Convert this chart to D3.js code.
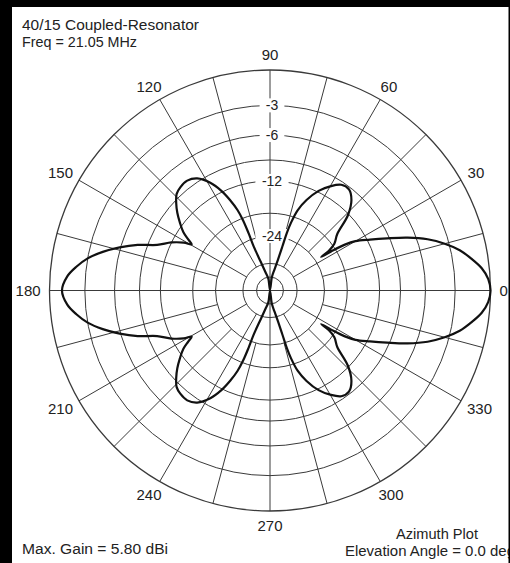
<!DOCTYPE html>
<html>
<head>
<meta charset="utf-8">
<script src="https://cdn.jsdelivr.net/npm/d3@7"></script>
<style>
  html, body { margin: 0; padding: 0; background: #fff; }
  svg { display: block; }
  text { font-family: "Liberation Sans", Arial, sans-serif; fill: #222; }
</style>
</head>
<body>
<div id="chart"></div>
<script>
// ---------------------------------------------------------------------------
// Data. Azimuth in degrees, gain in dB below max.
// ---------------------------------------------------------------------------
const azimuths = [
    0, 3, 6, 9, 12, 15, 18, 21, 24, 27, 30, 31.5, 32.5, 33.2, 34, 36, 40, 44, 48, 52,
    56, 60, 64, 68, 71, 72.8, 73.7, 74.3, 75.5, 78, 82, 90,
    98, 104, 108, 110.3, 110.5, 111, 112, 113.8, 116, 119, 123, 127, 131, 134, 137, 140,
    143, 146, 148, 149.5, 151, 154, 158, 161, 164, 167, 170, 173, 176, 180,
    184, 187, 190, 193, 196, 199, 202, 206, 209, 210.5, 212, 214, 217, 220, 223, 226,
    229, 233, 237, 241, 244, 246.2, 248, 249, 249.5, 249.7, 252, 256, 262, 270,
    278, 282, 284.5, 285.7, 286.3, 287.2, 289, 292, 296, 300, 304, 308, 312, 316,
    320, 324, 326, 326.8, 327.5, 328.5, 330, 333, 336, 339, 342, 345, 348, 351, 354, 357
];
const gains = [
    0, -0.15, -0.6, -1.35, -2.2, -3.4, -4.9, -6.9, -9.3, -11.6, -13.8, -15.8, -18.5, -22, -19.5, -17.5, -15.8, -12.2, -10.2, -9.3,
    -9.4, -10.4, -11.8, -14, -16.4, -19.5, -22.4, -27, -33, -40, -48, -99,
    -50, -42, -34, -26.5, -22, -18.5, -16, -13.8, -11.8, -10, -8.6, -8.1, -8.2, -8.5, -9.3, -10.3,
    -11.5, -12.8, -14.2, -15.2, -13.8, -12.0, -10.2, -7.8, -5.9, -4.3, -3.0, -2.1, -1.4, -1.0,
    -1.4, -2.1, -3.0, -4.3, -5.9, -7.8, -10.2, -12.0, -13.8, -15.2, -14.2, -12.8, -11.5, -10.3, -9.3, -8.5,
    -8.2, -8.1, -8.6, -10, -11.8, -13.8, -16, -18.5, -22, -26.5, -34, -42, -50, -99,
    -48, -40, -33, -27, -22.4, -19.5, -16.4, -14, -11.8, -10.4, -9.4, -9.3, -10.2, -12.2,
    -15.8, -17.5, -19.5, -22, -18.5, -15.8, -13.8, -11.6, -9.3, -6.9, -4.9, -3.4, -2.2, -1.35, -0.6, -0.15
];

// Grid: rings (only some labelled) and spokes every 15 degrees
const ringDb      = [0, -3, -6, -9, -12, -18, -24, -36, -48];
const ringLabels  = ['-3', '-6', '-12', '-24'];
const spokeAngles = d3.range(0, 360, 15);
const angleLabels = d3.range(0, 360, 30);

const W  = 510, H = 563;
const cx = 270, cy = 290.5, R = 220.5;

const svg = d3.select('#chart').append('svg')
    .attr('width', W).attr('height', H)
    .attr('viewBox', `0 0 ${W} ${H}`);

svg.append('rect').attr('width', W).attr('height', H).attr('fill', '#fff');

// ARRL log-periodic scale: radius shrinks by 0.89 for every 2 dB.
// Expressed on power ratio, that is a power scale with this exponent.
const k = -5 * Math.log(0.89) / Math.LN10;
const rScale = d3.scalePow().exponent(k).domain([0, 1]).range([0, R]);
const r = db => rScale(Math.pow(10, db / 10));

// azimuth (CCW from east) -> d3 radial angle (CW from north)
const aScale = d3.scaleLinear().domain([0, 360]).range([Math.PI / 2, Math.PI / 2 - 2 * Math.PI]);

const g = svg.append('g').attr('transform', `translate(${cx},${cy})`);

// ── grid ──────────────────────────────────────────────────────────────────
const grid = g.append('g')
    .attr('fill', 'none')
    .attr('stroke', '#3a3a3a')
    .attr('stroke-width', 1);

grid.selectAll('circle')
    .data(ringDb)
    .join('circle')
    .attr('r', d => r(d))
    .attr('stroke-width', d => d === 0 ? 1.3 : 1);

// spokes: 90° ones cross the centre, 30° ones stop at -36, the rest at -24
spokeAngles.forEach(a => {
    const inner = a % 90 === 0 ? 0 : (a % 30 === 0 ? r(-36) : r(-24));
    const t = aScale(a);
    grid.append('line')
        .attr('x1', inner * Math.sin(t)).attr('y1', -inner * Math.cos(t))
        .attr('x2', R * Math.sin(t)).attr('y2', -R * Math.cos(t));
});

// ring labels on the 90 deg spoke, with a white gap
const lbl = g.append('g').selectAll('g')
    .data(ringLabels)
    .join('g')
    .attr('transform', d => `translate(2,${-r(+d)})`);

lbl.append('rect')
    .attr('x', d => -(d.length * 4.2) - 4)
    .attr('y', -7)
    .attr('width', d => d.length * 8.4 + 8)
    .attr('height', 14)
    .attr('fill', '#fff');

lbl.append('text')
    .attr('text-anchor', 'middle')
    .attr('dy', '0.36em')
    .attr('font-size', 14)
    .text(d => d);

// angle labels outside the outer ring
g.append('g').selectAll('text')
    .data(angleLabels)
    .join('text')
    .attr('font-size', 15)
    .attr('text-anchor', 'middle')
    .attr('dy', '0.36em')
    .attr('x', d => {
        const t = aScale(d), w = String(d).length * 8.3;
        return (R + 9) * Math.sin(t) + Math.sin(t) * w / 2;
    })
    .attr('y', d => {
        const t = aScale(d);
        return -(R + 9) * Math.cos(t) - Math.cos(t) * 6;
    })
    .text(d => d);

// ── pattern ───────────────────────────────────────────────────────────────
const pts = azimuths.map((a, i) => [a, gains[i]]);
const line = d3.lineRadial()
    .angle(d => aScale(d[0]))
    .radius(d => r(d[1]))
    .curve(d3.curveCatmullRomClosed.alpha(0.5));

g.append('path')
    .datum(pts)
    .attr('d', line)
    .attr('fill', 'none')
    .attr('stroke', '#111')
    .attr('stroke-width', 2.2)
    .attr('stroke-linejoin', 'round');

// ── texts ─────────────────────────────────────────────────────────────────
const txt = (x, y, s, len, anchor) => svg.append('text')
    .attr('x', x).attr('y', y)
    .attr('font-size', 14)
    .attr('text-anchor', anchor || 'start')
    .attr('textLength', len)
    .attr('lengthAdjust', 'spacingAndGlyphs')
    .text(s);

txt(22, 30, '40/15 Coupled-Resonator', 177);
txt(22, 47, 'Freq = 21.05 MHz', 115);
txt(22, 554, 'Max. Gain = 5.80 dBi', 146);
txt(396, 539, 'Azimuth Plot', 82);
txt(345, 556, 'Elevation Angle = 0.0 deg', 170);

// frame: heavy on top and left, hairline on the right
svg.append('rect').attr('x', 0).attr('y', 0).attr('width', W).attr('height', 7).attr('fill', '#000');
svg.append('rect').attr('x', 0).attr('y', 0).attr('width', 12).attr('height', H).attr('fill', '#000');
svg.append('rect').attr('x', W - 1.5).attr('y', 0).attr('width', 1.5).attr('height', H).attr('fill', '#000');
</script>
</body>
</html>
